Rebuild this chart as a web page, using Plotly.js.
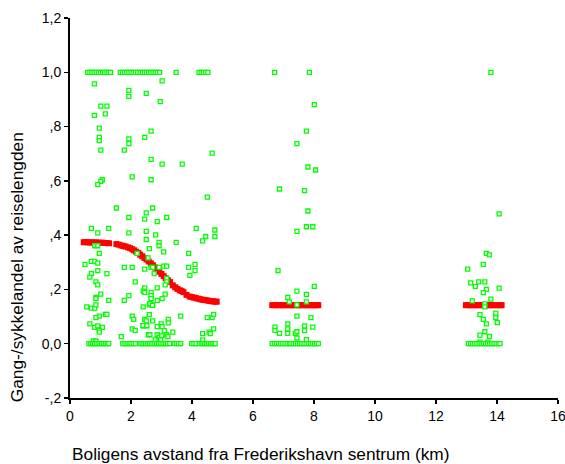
<!DOCTYPE html>
<html>
<head>
<meta charset="utf-8">
<script src="https://cdn.plot.ly/plotly-3.0.1.min.js"></script>
<style>html,body{margin:0;padding:0;background:#fff;}#chart{width:565px;height:464px;}</style>
</head>
<body>
<div id="chart"></div>
<script>
// Observed: distance to centre (km) and walking/cycling share of trip length
const distX = [
 0.58,0.65,0.72,0.79,0.86,0.93,1.00,1.07,1.14,1.21,1.27,1.33,1.65,1.72,1.79,1.86,1.93,2.00,2.07,2.14,2.22,
 2.30,2.37,2.44,2.51,2.58,2.65,2.72,2.79,2.86,2.94,3.48,4.23,4.30,4.37,4.45,4.52,6.71,7.85,13.80,
 0.80,3.02,1.93,1.93,2.50,2.96,1.01,1.21,0.80,1.16,0.96,2.66,0.96,0.96,1.93,1.93,2.45,1.01,1.78,4.66,2.66,3.02,3.68,
 2.04,2.66,1.06,1.01,0.91,4.50,1.52,2.71,2.50,1.93,2.45,3.17,2.86,
 0.70,1.27,0.91,1.93,2.50,2.81,4.14,4.75,4.45,4.35,4.75,3.48,2.50,2.92,2.92,0.81,0.91,2.60,0.96,2.20,3.07,3.89,2.56,
 0.49,0.70,0.81,0.91,1.78,2.04,2.45,2.66,2.71,3.07,3.17,2.92,2.76,3.89,4.10,4.10,3.93,0.70,0.65,0.91,1.21,0.85,0.91,
 2.14,3.17,3.17,3.12,2.45,2.40,2.45,2.86,2.66,2.66,2.66,2.71,2.60,3.12,1.01,0.85,0.85,1.27,1.93,1.78,2.86,3.02,
 0.55,0.70,0.81,0.85,2.40,1.16,1.21,0.96,0.85,2.04,2.09,2.45,2.50,2.71,3.22,3.22,3.63,4.50,4.66,4.71,
 0.65,0.81,0.91,1.06,0.96,0.96,2.04,2.14,2.40,2.50,4.71,4.56,4.60,4.35,1.68,
 2.62,2.70,2.60,2.39,2.52,2.86,2.99,3.02,3.09,3.37,2.57,2.62,2.86,2.92,3.01,3.17,3.21,2.79,2.97,4.35,0.77,0.85,
 0.62,0.68,0.74,0.80,0.86,0.92,0.98,1.04,1.10,1.16,1.22,1.27,1.73,1.80,1.87,1.94,2.00,2.07,2.14,
 2.30,2.36,2.42,2.48,2.54,2.60,2.66,2.72,2.78,2.84,2.90,2.96,3.02,3.08,3.14,3.20,3.27,3.43,3.50,3.56,3.63,
 3.99,4.06,4.13,4.24,4.30,4.36,4.42,4.48,4.54,4.60,4.66,4.72,4.76,
 8.01,7.75,7.44,7.80,8.05,6.87,7.69,7.80,7.75,7.96,7.44,6.82,8.01,7.44,7.75,7.14,7.19,7.75,7.44,7.44,7.90,
 6.72,6.72,7.14,7.14,7.14,6.87,7.69,7.69,7.96,7.39,7.44,7.44,7.75,
 6.63,6.70,6.77,6.84,6.91,6.98,7.05,7.12,7.19,7.24,7.32,7.39,7.46,7.53,7.60,7.67,7.74,7.81,7.88,7.95,8.02,8.08,8.14,
 14.07,13.65,13.75,13.55,13.04,13.14,13.29,13.40,13.60,13.65,13.55,14.07,13.80,13.19,13.60,13.60,13.44,13.96,13.96,
 14.01,13.55,13.65,13.60,13.44,13.75,13.44,13.70,
 13.06,13.13,13.20,13.27,13.34,13.41,13.48,13.55,13.62,13.69,13.76,13.83,13.90,13.97,14.04,14.10
];
const shareY = [
 1,1,1,1,1,1,1,1,1,1,1,1,1,1,1,1,1,1,1,1,1,
 1,1,1,1,1,1,1,1,1,1,1,1,1,1,1,1,1,1,1,
 0.957,0.968,0.933,0.911,0.922,0.892,0.875,0.875,0.841,0.847,0.794,0.783,0.760,0.748,0.755,0.737,0.760,0.713,0.713,0.702,0.679,0.662,0.662,
 0.615,0.604,0.604,0.598,0.587,0.540,0.500,0.500,0.482,0.465,0.459,0.465,0.450,
 0.425,0.425,0.408,0.408,0.414,0.401,0.425,0.419,0.395,0.379,0.395,0.373,0.384,0.373,0.361,0.361,0.361,0.350,0.333,0.333,0.338,0.333,0.316,
 0.292,0.303,0.303,0.297,0.281,0.281,0.275,0.281,0.281,0.286,0.286,0.281,0.258,0.281,0.292,0.269,0.252,0.258,0.245,0.269,0.258,0.228,0.217,
 0.228,0.241,0.228,0.217,0.206,0.194,0.189,0.206,0.189,0.177,0.166,0.143,0.143,0.183,0.183,0.171,0.166,0.160,0.177,0.160,0.160,0.166,
 0.136,0.131,0.131,0.143,0.136,0.108,0.108,0.102,0.096,0.102,0.090,0.090,0.084,0.084,0.090,0.077,0.102,0.096,0.096,0.108,
 0.073,0.060,0.066,0.060,0.049,0.043,0.055,0.049,0.066,0.066,0.055,0.043,0.037,0.037,0.026,
 0.148,0.141,0.107,0.067,0.067,0.063,0.073,0.063,0.048,0.043,0.033,0.033,0.033,0.023,0.029,0.033,0.026,0.014,0.014,0.014,0.010,0.010,
 0,0,0,0,0,0,0,0,0,0,0,0,0,0,0,0,0,0,0,
 0,0,0,0,0,0,0,0,0,0,0,0,0,0,0,0,0,0,0,0,0,
 0,0,0,0,0,0,0,0,0,0,0,0,0,
 0.881,0.783,0.737,0.651,0.640,0.570,0.564,0.489,0.431,0.431,0.414,0.269,0.211,0.194,0.182,0.171,0.154,0.154,0.143,0.102,0.096,
 0.061,0.049,0.073,0.055,0.038,0.038,0.066,0.048,0.061,0.038,0.044,0.021,0.015,
 0,0,0,0,0,0,0,0,0,0,0,0,0,0,0,0,0,0,0,0,0,0,0,
 0.478,0.333,0.327,0.292,0.275,0.224,0.211,0.228,0.228,0.200,0.188,0.205,0.164,0.158,0.147,0.136,0.107,0.113,0.096,
 0.078,0.090,0.073,0.044,0.032,0.027,0.006,0.006,
 0,0,0,0,0,0,0,0,0,0,0,0,0,0,0,0
];
// Predicted (fitted) share
const fitX = [
 0.45,0.52,0.58,0.65,0.72,0.79,0.86,0.93,1.00,1.07,1.14,1.21,1.28,
 1.52,1.60,1.68,1.75,1.82,1.90,1.97,2.04,2.10,2.17,2.24,2.30,2.37,2.44,2.51,2.58,2.65,2.72,2.79,2.86,2.93,3.00,3.07,3.14,3.21,3.28,
 3.37,3.45,3.52,3.60,3.66,3.72,3.82,
 3.92,3.99,4.06,4.13,4.20,4.27,4.34,4.41,4.48,4.55,4.62,4.69,4.76,4.81,
 6.63,6.70,6.77,6.84,6.91,6.98,7.05,7.12,7.19,7.26,7.33,7.40,7.47,7.54,7.61,7.68,7.75,7.82,7.89,7.96,8.03,8.09,8.14,
 12.98,13.05,13.12,13.19,13.26,13.33,13.40,13.47,13.54,13.61,13.68,13.75,13.82,13.89,13.96,14.03,14.10,14.15
];
const fitY = [
 0.374,0.374,0.374,0.373,0.373,0.373,0.373,0.372,0.372,0.372,0.371,0.371,0.370,
 0.367,0.365,0.362,0.360,0.358,0.355,0.352,0.348,0.344,0.339,0.334,0.328,0.322,0.316,0.310,0.303,0.296,0.289,0.281,0.273,0.265,0.257,0.249,0.241,0.234,0.227,
 0.215,0.208,0.202,0.197,0.194,0.190,0.180,
 0.174,0.172,0.170,0.168,0.166,0.164,0.162,0.161,0.160,0.158,0.157,0.156,0.155,0.155,
 0.142,0.142,0.142,0.142,0.142,0.142,0.142,0.142,0.142,0.142,0.142,0.142,0.142,0.142,0.142,0.142,0.142,0.142,0.142,0.142,0.142,0.142,0.142,
 0.142,0.142,0.142,0.142,0.142,0.142,0.142,0.142,0.142,0.142,0.142,0.142,0.142,0.142,0.142,0.142,0.142,0.142
];
const xTicks = [0,2,4,6,8,10,12,14,16];
const yTickVals = [-0.2,0,0.2,0.4,0.6,0.8,1.0,1.2];
const yTickText = ["-,2","0,0",",2",",4",",6",",8","1,0","1,2"];
const xTitle = "Boligens avstand fra Frederikshavn sentrum (km)";
const yTitle = "Gang-/sykkelandel av reiselengden";

const font = "Arial, 'Liberation Sans', sans-serif";
const traces = [
 {x: fitX, y: fitY, type: 'scatter', mode: 'markers', hoverinfo: 'none',
  marker: {symbol: 'square', size: 6, color: '#ff0000', line: {width: 0}}},
 {x: distX, y: shareY, type: 'scatter', mode: 'markers', hoverinfo: 'none',
  marker: {symbol: 'square', size: 4, color: '#ffffff', line: {color: '#00ff00', width: 1.3}}}
];
const layout = {
 width: 565, height: 464,
 margin: {l: 70, r: 7, t: 18, b: 66},
 paper_bgcolor: '#ffffff', plot_bgcolor: '#ffffff',
 showlegend: false,
 font: {family: font, size: 14, color: '#000'},
 xaxis: {range: [0, 16], tickvals: xTicks, ticks: 'outside', ticklen: 4, tickwidth: 1.5, tickcolor: '#000',
  showline: true, linecolor: '#000', linewidth: 2, showgrid: false, zeroline: false,
  ticklabeloverflow: 'allow', tickfont: {size: 14}, fixedrange: true},
 yaxis: {range: [-0.2, 1.2], tickvals: yTickVals, ticktext: yTickText, ticks: 'outside', ticklen: 4, tickwidth: 1.5,
  tickcolor: '#000', showline: true, linecolor: '#000', linewidth: 2, showgrid: false, zeroline: false,
  ticklabeloverflow: 'allow', tickfont: {size: 14}, fixedrange: true},
 annotations: [
  {text: xTitle, xref: 'paper', yref: 'paper', x: 0, y: -0.147, xanchor: 'left', yanchor: 'middle',
   showarrow: false, font: {size: 17.3}},
  {text: yTitle, xref: 'paper', yref: 'paper', x: -0.108, y: 0.345, xanchor: 'center', yanchor: 'middle',
   textangle: -90, showarrow: false, font: {size: 17.3}}
 ]
};
Plotly.newPlot('chart', traces, layout, {staticPlot: true, displayModeBar: false});
</script>
</body>
</html>
